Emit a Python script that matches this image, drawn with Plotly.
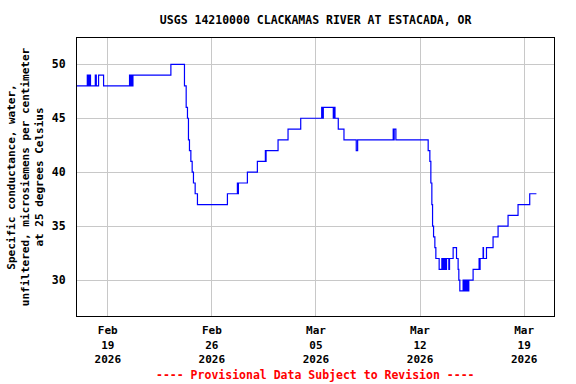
import plotly.graph_objects as go

# Change points (time, value) of the 15-minute record, drawn as steps
times = [
    "2026-02-16 22:20", "2026-02-17 14:57", "2026-02-17 16:34", "2026-02-17 17:33", "2026-02-17 18:40",
    "2026-02-17 19:09", "2026-02-17 20:07", "2026-02-18 03:52", "2026-02-18 05:29", "2026-02-18 09:10",
    "2026-02-18 17:14", "2026-02-20 11:08", "2026-02-20 12:45", "2026-02-20 13:52", "2026-02-20 14:51",
    "2026-02-20 16:37", "2026-02-23 05:51", "2026-02-24 03:47", "2026-02-24 06:32", "2026-02-24 08:37",
    "2026-02-24 10:13", "2026-02-24 11:51", "2026-02-24 14:06", "2026-02-24 16:12", "2026-02-24 18:17",
    "2026-02-24 21:02", "2026-02-25 00:44", "2026-02-27 01:06", "2026-02-27 17:12", "2026-02-27 17:51",
    "2026-02-27 18:49", "2026-02-28 09:20", "2026-03-01 01:26", "2026-03-01 14:21", "2026-03-01 14:59",
    "2026-03-01 15:29", "2026-03-02 10:49", "2026-03-03 02:56", "2026-03-03 23:24", "2026-03-05 09:14",
    "2026-03-05 10:03", "2026-03-05 11:50", "2026-03-06 03:57", "2026-03-06 04:45", "2026-03-06 06:42",
    "2026-03-06 12:00", "2026-03-06 21:12", "2026-03-07 17:01", "2026-03-07 19:16", "2026-03-10 04:39",
    "2026-03-10 05:28", "2026-03-10 06:16", "2026-03-10 09:00", "2026-03-12 13:05", "2026-03-12 15:49",
    "2026-03-12 17:25", "2026-03-12 19:02", "2026-03-12 20:10", "2026-03-12 21:47", "2026-03-12 23:53",
    "2026-03-13 01:29", "2026-03-13 06:49", "2026-03-13 11:10", "2026-03-13 12:17", "2026-03-13 13:15",
    "2026-03-13 14:52", "2026-03-13 15:59", "2026-03-13 17:36", "2026-03-13 18:43", "2026-03-13 22:26",
    "2026-03-13 23:34", "2026-03-14 05:23", "2026-03-14 10:51", "2026-03-14 13:26", "2026-03-14 14:34",
    "2026-03-14 16:11", "2026-03-14 21:29", "2026-03-14 22:26", "2026-03-15 00:14", "2026-03-15 01:02",
    "2026-03-15 02:20", "2026-03-15 03:07", "2026-03-15 04:35", "2026-03-15 05:33", "2026-03-15 06:40",
    "2026-03-15 13:36", "2026-03-15 23:17", "2026-03-15 23:56", "2026-03-16 00:53", "2026-03-16 05:43",
    "2026-03-16 06:22", "2026-03-16 11:12", "2026-03-16 21:50", "2026-03-17 05:54", "2026-03-17 22:01",
    "2026-03-18 14:08", "2026-03-19 09:00", "2026-03-19 19:48",
]
values = [
    48, 49, 48, 49, 48,
    49, 48, 49, 48, 49,
    48, 49, 48, 49, 48,
    49, 50, 48, 46, 45,
    43, 42, 41, 40, 39,
    38, 37, 38, 39, 38,
    39, 40, 41, 42, 41,
    42, 43, 44, 45, 46,
    45, 46, 45, 46, 45,
    44, 43, 42, 43, 44,
    43, 44, 43, 42, 41,
    39, 37, 35, 34, 33,
    32, 31, 32, 31, 32,
    31, 32, 31, 32, 31,
    32, 33, 32, 31, 30,
    29, 30, 29, 30, 29,
    30, 29, 30, 29, 30,
    31, 32, 31, 32, 33,
    32, 33, 34, 35, 36,
    37, 38, 38,
]

tick_dates = ["2026-02-19", "2026-02-26", "2026-03-05", "2026-03-12", "2026-03-19"]
tick_labels = ["Feb<br>19<br>2026", "Feb<br>26<br>2026", "Mar<br>05<br>2026",
               "Mar<br>12<br>2026", "Mar<br>19<br>2026"]
y_ticks = [30, 35, 40, 45, 50]

title_text = "USGS 14210000 CLACKAMAS RIVER AT ESTACADA, OR"
y_title = "Specific conductance, water,<br>unfiltered, microsiemens per centimeter<br>at 25 degrees Celsius"
footer = "---- Provisional Data Subject to Revision ----"

FONT = "DejaVu Sans Mono"

fig = go.Figure()
fig.add_trace(go.Scatter(
    x=times, y=values, mode="lines", line=dict(color="#0000ff", width=1.2, shape="hv"),
    showlegend=False, hoverinfo="x+y",
))

fig.update_layout(
    width=576, height=384,
    margin=dict(l=77, r=22, t=38, b=68),
    paper_bgcolor="white", plot_bgcolor="white",
    font=dict(family=FONT, size=11, color="black", weight="bold"),
    title=dict(text=title_text, x=0.548, xanchor="center", y=1 - 20 / 384, yanchor="middle",
               font=dict(family=FONT, size=11.5, color="black", weight="bold")),
    xaxis=dict(
        type="date", range=["2026-02-16 22:20", "2026-03-21 00:10"], automargin=False,
        tickvals=tick_dates, ticktext=tick_labels, ticks="", ticklabelstandoff=4,
        showgrid=True, gridcolor="#c8c8c8", gridwidth=1,
        showline=True, linecolor="black", linewidth=1, mirror=True, zeroline=False,
        tickfont=dict(family=FONT, size=11, color="black", weight="bold"),
    ),
    yaxis=dict(
        range=[26.67, 52.44], tickvals=y_ticks, ticks="", ticklabelstandoff=8, automargin=False,
        showgrid=True, gridcolor="#c8c8c8", gridwidth=1,
        showline=True, linecolor="black", linewidth=1, mirror=True, zeroline=False,
        tickfont=dict(family=FONT, size=11.5, color="black", weight="bold"),
        title=dict(text=y_title, standoff=5,
                   font=dict(family=FONT, size=11, color="black", weight="bold")),
    ),
    annotations=[dict(
        text=footer, xref="paper", yref="paper", x=0.5, y=-(375 - 316) / 278,
        xanchor="center", yanchor="middle", showarrow=False,
        font=dict(family=FONT, size=11.5, color="red", weight="bold"),
    )],
)

fig.write_html("out.html", config={"displayModeBar": False},
               post_script="document.body.style.margin='0';")
